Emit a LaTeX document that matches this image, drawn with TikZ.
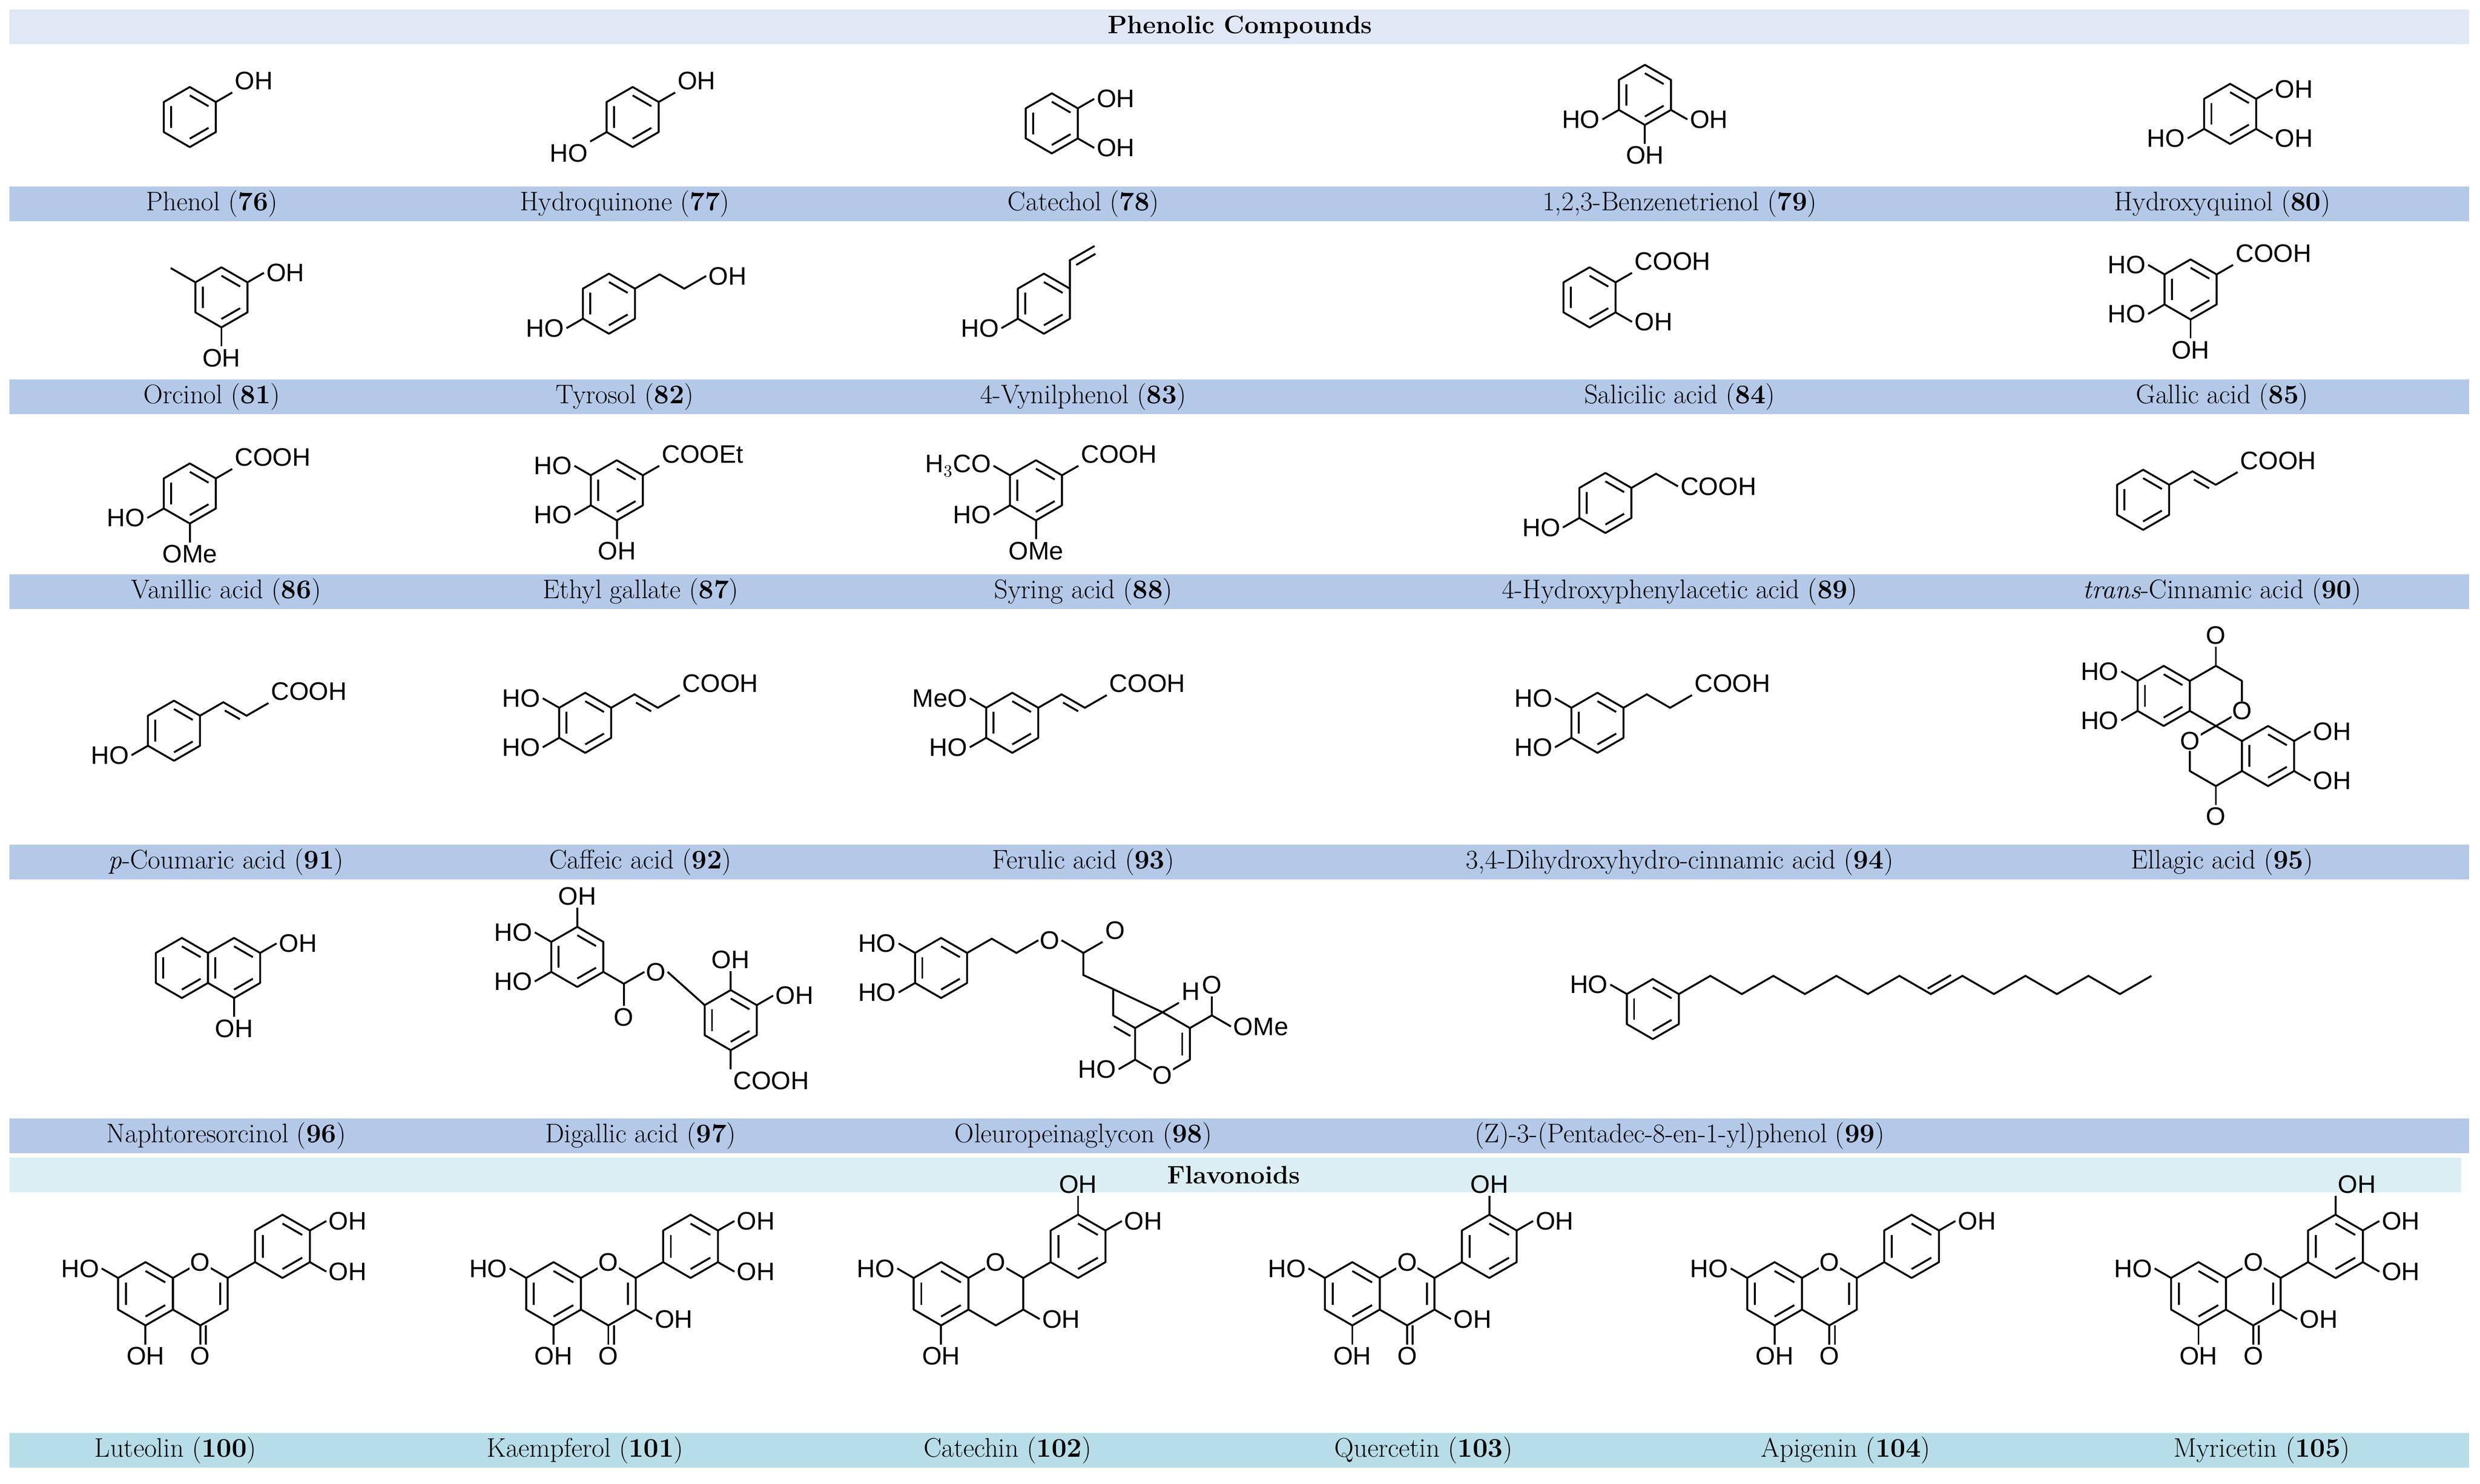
\documentclass[tikz,border=0pt]{standalone}
\usepackage{fontspec}
\usetikzlibrary{calc}
\newfontfamily\chemf{Liberation Sans}
\definecolor{bandA}{HTML}{DFE8F4}
\definecolor{bandB}{HTML}{B4C8E8}
\definecolor{bandC}{HTML}{DBEEF4}
\definecolor{bandD}{HTML}{B6DDE8}
\tikzset{
 lbl/.style={font=\fontsize{17}{20}\selectfont,inner sep=0pt},
 chem/.style={font=\chemf\fontsize{16}{18}\selectfont,inner sep=1pt},
 bond/.style={line width=1.2pt},
}
\newcommand\ring[4]{% name x y r
 \coordinate (#1) at (#2,#3);
 \coordinate (#1-ur) at ($(#1)+(-30:#4)$);
 \coordinate (#1-t) at ($(#1)+(-90:#4)$);
 \coordinate (#1-ul) at ($(#1)+(-150:#4)$);
 \coordinate (#1-ll) at ($(#1)+(150:#4)$);
 \coordinate (#1-b) at ($(#1)+(90:#4)$);
 \coordinate (#1-lr) at ($(#1)+(30:#4)$);
 \draw[bond,line join=round] (#1-ur)--(#1-t)--(#1-ul)--(#1-ll)--(#1-b)--(#1-lr)--cycle;}
\newcommand\arom[1]{%
 \draw[bond] ($(#1)!0.72!(#1-ur)$)--($(#1)!0.72!(#1-t)$);
 \draw[bond] ($(#1)!0.72!(#1-ul)$)--($(#1)!0.72!(#1-ll)$);
 \draw[bond] ($(#1)!0.72!(#1-b)$)--($(#1)!0.72!(#1-lr)$);}
\newcommand\sub[4]{\draw[bond] (#1) -- ++(#2:12) node[chem,anchor=#4]{#3};}
\newcommand\lab[3]{\node[lbl] at (#1,#2) {#3};}
\newcommand\cinn[1]{% from vertex #1
 \draw[bond] (#1)--++(-30:17) coordinate(cq0)--++(30:17) coordinate(cq1)--++(-30:16) node[chem,anchor=south west]{COOH};
 \draw[bond] ($(cq0)!0.2!(cq1)+(-2,3.5)$)--($(cq0)!0.85!(cq1)+(-2,3.5)$);}
\newcommand\flav[4]{% name x y kind (f=flavone, c=catechin); C3 OH via #5
 \ring{#1A}{#2}{#3}{20}
 \ring{#1C}{#2+34.64}{#3}{20}
 \arom{#1A}
 \node[chem,fill=white,inner sep=0.5pt] at (#1C-t) {O};
 \ring{#1B}{#2+86.6}{#3-30}{20}\arom{#1B}
 \draw[bond] (#1C-ur) -- (#1B-ll);
 \sub{#1A-ul}{-150}{HO}{east}
 \sub{#1A-b}{90}{OH}{north}
 \ifx c#4\else
  \draw[bond] (#1C-b) -- ++(90:12) node[chem,anchor=north]{O};
  \draw[bond] ($(#1C-b)+(3.5,0)$) -- ++(90:12);
  \draw[bond] ($(#1C)!0.72!(#1C-ur)$)--($(#1C)!0.72!(#1C-lr)$);
 \fi
}
\begin{document}
\begin{tikzpicture}[x=1pt,y=1pt,yscale=-1]
\useasboundingbox (0,0) rectangle (1568,938);
\fill[white] (0,0) rectangle (1568,938);
% bands
\fill[bandA] (6,6) rectangle (1561,28);
\node[lbl,font=\bfseries\fontsize{16}{18}\selectfont] at (784,17) {Phenolic Compounds};
\foreach \y in {118,240,363,534,707} \fill[bandB] (6,\y) rectangle (1561,\y+22);
\fill[bandC] (6,732) rectangle (1556,754);
\node[lbl,font=\bfseries\fontsize{16}{18}\selectfont] at (780,743) {Flavonoids};
\fill[bandD] (6,906) rectangle (1561,928);
% labels
\lab{134}{129}{Phenol (\textbf{76})}
\lab{395}{129}{Hydroquinone (\textbf{77})}
\lab{685}{129}{Catechol (\textbf{78})}
\lab{1062}{129}{1,2,3-Benzenetrienol (\textbf{79})}
\lab{1405}{129}{Hydroxyquinol (\textbf{80})}
\lab{134}{251}{Orcinol (\textbf{81})}
\lab{395}{251}{Tyrosol (\textbf{82})}
\lab{685}{251}{4-Vynilphenol (\textbf{83})}
\lab{1062}{251}{Salicilic acid (\textbf{84})}
\lab{1405}{251}{Gallic acid (\textbf{85})}
\lab{143}{374}{Vanillic acid (\textbf{86})}
\lab{405}{374}{Ethyl gallate (\textbf{87})}
\lab{685}{374}{Syring acid (\textbf{88})}
\lab{1062}{374}{4-Hydroxyphenylacetic acid (\textbf{89})}
\lab{1405}{374}{\textit{trans}-Cinnamic acid (\textbf{90})}
\lab{143}{545}{\textit{p}-Coumaric acid (\textbf{91})}
\lab{405}{545}{Caffeic acid (\textbf{92})}
\lab{685}{545}{Ferulic acid (\textbf{93})}
\lab{1062}{545}{3,4-Dihydroxyhydro-cinnamic acid (\textbf{94})}
\lab{1405}{545}{Ellagic acid (\textbf{95})}
\lab{143}{718}{Naphtoresorcinol (\textbf{96})}
\lab{405}{718}{Digallic acid (\textbf{97})}
\lab{685}{718}{Oleuropeinaglycon (\textbf{98})}
\lab{1062}{718}{(Z)-3-(Pentadec-8-en-1-yl)phenol (\textbf{99})}
\lab{111}{917}{Luteolin (\textbf{100})}
\lab{370}{917}{Kaempferol (\textbf{101})}
\lab{637}{917}{Catechin (\textbf{102})}
\lab{900}{917}{Quercetin (\textbf{103})}
\lab{1167}{917}{Apigenin (\textbf{104})}
\lab{1430}{917}{Myricetin (\textbf{105})}
% row 1
\ring{a}{120}{74}{19}\arom{a}\sub{a-ur}{-30}{OH}{south west}
\ring{b}{400}{74}{19}\arom{b}\sub{b-ur}{-30}{OH}{south west}\sub{b-ll}{150}{HO}{north east}
\ring{c}{665}{78}{19}\arom{c}\sub{c-ur}{-30}{OH}{west}\sub{c-lr}{30}{OH}{west}
\ring{d}{1040}{60}{19}\arom{d}\sub{d-ll}{150}{HO}{east}\sub{d-lr}{30}{OH}{west}\sub{d-b}{90}{OH}{north}
\ring{e}{1410}{72}{19}\arom{e}\sub{e-ur}{-30}{OH}{west}\sub{e-lr}{30}{OH}{west}\sub{e-ll}{150}{HO}{east}
% row 2
\ring{f}{140}{188}{19}\arom{f}\sub{f-ur}{-30}{OH}{west}\sub{f-b}{90}{OH}{north}\draw[bond] (f-ul)--++(-150:18);
\ring{g}{385}{192}{19}\arom{g}\sub{g-ll}{150}{HO}{east}
\draw[bond] (g-ur)--++(-30:18)--++(30:18)--++(-30:16) node[chem,anchor=west]{OH};
\ring{h}{660}{192}{19}\arom{h}\sub{h-ll}{150}{HO}{east}
\draw[bond] (h-ur)--++(-90:18) coordinate(h1)--++(-30:18);\draw[bond] ($(h1)+(4,3)$)--++(-30:14);
\ring{i}{1005}{188}{19}\arom{i}\sub{i-ur}{-30}{COOH}{south west}\sub{i-lr}{30}{OH}{west}
\ring{j}{1385}{183}{19}\arom{j}\sub{j-ur}{-30}{COOH}{south west}\sub{j-ul}{-150}{HO}{east}\sub{j-ll}{150}{HO}{east}\sub{j-b}{90}{OH}{north}
% row 3
\ring{k}{120}{312}{19}\arom{k}\sub{k-ur}{-30}{COOH}{south west}\sub{k-ll}{150}{HO}{east}\sub{k-b}{90}{OMe}{north}
\ring{l}{390}{310}{19}\arom{l}\sub{l-ur}{-30}{COOEt}{south west}\sub{l-ul}{-150}{HO}{east}\sub{l-ll}{150}{HO}{east}\sub{l-b}{90}{OH}{north}
\ring{m}{655}{310}{19}\arom{m}\sub{m-ur}{-30}{COOH}{south west}\sub{m-ul}{-150}{H$_3$CO}{east}\sub{m-ll}{150}{HO}{east}\sub{m-b}{90}{OMe}{north}
\ring{n}{1015}{318}{19}\arom{n}\sub{n-ll}{150}{HO}{east}
\draw[bond] (n-ur)--++(-30:18)--++(30:16) node[chem,anchor=west]{COOH};
\ring{o}{1355}{316}{19}\arom{o}\cinn{o-ur}
% row 4 cinnamates
\ring{p}{110}{462}{19}\arom{p}\sub{p-ll}{150}{HO}{east}\cinn{p-ur}
\ring{q}{370}{457}{19}\arom{q}\sub{q-ul}{-150}{HO}{east}\sub{q-ll}{150}{HO}{east}\cinn{q-ur}
\ring{r}{640}{457}{19}\arom{r}\sub{r-ul}{-150}{MeO}{east}\sub{r-ll}{150}{HO}{east}\cinn{r-ur}
\ring{s}{1010}{457}{19}\arom{s}\sub{s-ul}{-150}{HO}{east}\sub{s-ll}{150}{HO}{east}
\draw[bond] (s-ur)--++(-30:17)--++(30:17)--++(-30:16) node[chem,anchor=south west]{COOH};
% ellagic
\ring{ea}{1368}{440}{19}\arom{ea}
\ring{eb}{1434}{478}{19}\arom{eb}
\ring{el}{1401}{440}{19}
\ring{em}{1401}{478}{19}
\node[chem,fill=white,inner sep=0.5pt] at (el-lr) {O};
\node[chem,fill=white,inner sep=0.5pt] at (em-ul) {O};
\draw[bond] (el-t)--++(0,-12) node[chem,anchor=south]{O};
\draw[bond] (em-b)--++(0,12) node[chem,anchor=north]{O};
\sub{ea-ul}{-150}{HO}{east}\sub{ea-ll}{150}{HO}{east}
\sub{eb-ur}{-30}{OH}{west}\sub{eb-lr}{30}{OH}{west}
% row 5
\ring{na}{115}{612}{19}\arom{na}\ring{nb}{148}{612}{19}\arom{nb}
\sub{nb-ur}{-30}{OH}{west}\sub{nb-b}{90}{OH}{north}
\ring{u}{365}{605}{19}\arom{u}\sub{u-t}{-90}{OH}{south}\sub{u-ul}{-150}{HO}{east}\sub{u-ll}{150}{HO}{east}
\draw[bond] (u-lr)--++(30:15) coordinate(u1)--++(-30:15) node[chem,anchor=west,inner sep=0.5pt](uo){O};
\draw[bond] (u1)--++(90:14) node[chem,anchor=north]{O};
\ring{v}{462}{645}{19}\arom{v}\draw[bond] (uo.east)--(v-ul);
\sub{v-t}{-90}{OH}{south}\sub{v-ur}{-30}{OH}{west}\sub{v-b}{90}{COOH}{north west}
% oleuropein
\ring{w}{595}{612}{19}\arom{w}\sub{w-ul}{-150}{HO}{east}\sub{w-ll}{150}{HO}{east}
\draw[bond] (w-ur)--++(-30:18)--++(30:18)--++(-30:16) node[chem,anchor=west,inner sep=0.5pt](wo){O};
\draw[bond] (wo.east)--++(30:16) coordinate(w2)--++(-30:14) node[chem,anchor=south west]{O};
\ring{y}{735}{660}{20}
\draw[bond] (w2)--++(90:14)--(y-t);
\node[chem,fill=white,inner sep=0.5pt] at (y-b) {O};
\draw[bond] ($(y)!0.72!(y-lr)$)--($(y)!0.72!(y-ur)$);
\draw[bond] (y-t)--++(-30:12) node[chem,anchor=south west]{H};
\draw[bond] (y-ur)--++(-30:16) coordinate(y1)--++(-90:12) node[chem,anchor=south]{O};
\draw[bond] (y1)--++(30:14) node[chem,anchor=west]{OMe};
\draw[bond] (y-ul)--++(-150:16)--++(-90:16);
\draw[bond] ($(y-ul)+(-3,5)$)--++(-150:12);
\draw[bond] (y-ll)--++(150:12) node[chem,anchor=east]{HO};
% 99
\ring{z}{1045}{638}{19}\arom{z}\sub{z-ul}{-150}{HO}{east}
\draw[bond] (z-ur)--++(-30:23)--++(30:23)--++(-30:23)--++(30:23)--++(-30:23)--++(30:23)--++(-30:23)--++(30:23) coordinate(zz)--++(-30:23)--++(30:23)--++(-30:23)--++(30:23)--++(-30:23)--++(30:23)--++(-30:23);
\draw[bond] ($(zz)+(-2,-3.5)$)--++(-30:17);
% flavonoids
\flav{F1}{92}{818}{f}
\sub{F1B-ur}{-30}{OH}{west}\sub{F1B-lr}{30}{OH}{west}
\flav{F2}{350}{818}{f}\sub{F2C-lr}{30}{OH}{west}
\sub{F2B-ur}{-30}{OH}{west}\sub{F2B-lr}{30}{OH}{west}
\flav{F3}{595}{818}{c}\sub{F3C-lr}{30}{OH}{west}
\sub{F3B-t}{-90}{OH}{south}\sub{F3B-ur}{-30}{OH}{west}
\flav{F4}{855}{818}{f}\sub{F4C-lr}{30}{OH}{west}
\sub{F4B-t}{-90}{OH}{south}\sub{F4B-ur}{-30}{OH}{west}
\flav{F5}{1122}{818}{f}
\sub{F5B-ur}{-30}{OH}{west}
\flav{F6}{1390}{818}{f}\sub{F6C-lr}{30}{OH}{west}
\sub{F6B-t}{-90}{OH}{south west}\sub{F6B-ur}{-30}{OH}{west}\sub{F6B-lr}{30}{OH}{west}
\end{tikzpicture}
\end{document}
